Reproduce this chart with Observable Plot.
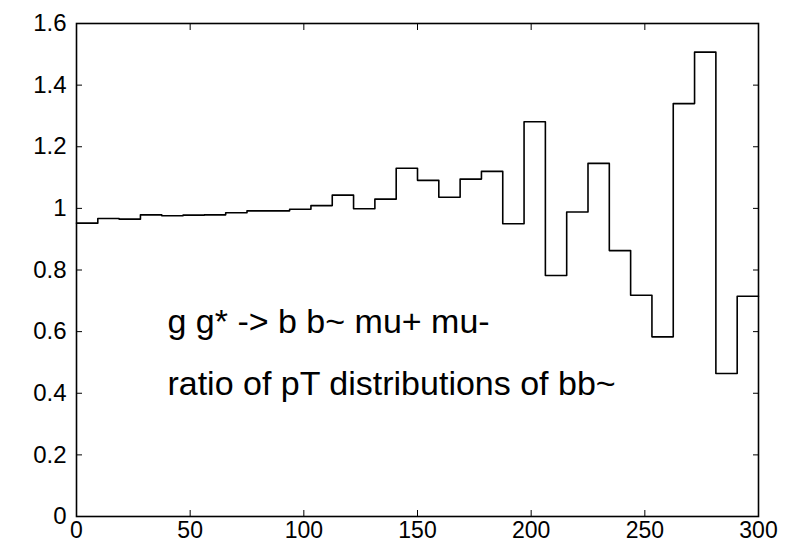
<!DOCTYPE html>
<html>
<head>
<meta charset="utf-8">
<script src="https://cdn.jsdelivr.net/npm/d3@7"></script>
<script src="https://cdn.jsdelivr.net/npm/@observablehq/plot@0.6"></script>
<style>
  html, body { margin: 0; padding: 0; background: #fff; }
  svg { font-family: "Liberation Sans", Arial, Helvetica, sans-serif; overflow: visible; }
</style>
</head>
<body>
<div id="chart"></div>
<script>
// Lower bin edges (pT)
const binEdges = [0, 9.375, 18.75, 28.125, 37.5, 46.875, 56.25, 65.625, 75, 84.375,
  93.75, 103.125, 112.5, 121.875, 131.25, 140.625, 150, 159.375, 168.75, 178.125,
  187.5, 196.875, 206.25, 215.625, 225, 234.375, 243.75, 253.125, 262.5, 271.875,
  281.25, 290.625];
const lastEdge = 300;
// Ratio values per bin
const ratios = [0.952, 0.967, 0.965, 0.979, 0.976, 0.978, 0.979, 0.986, 0.992, 0.992,
  0.997, 1.009, 1.043, 0.999, 1.030, 1.130, 1.091, 1.036, 1.095, 1.120,
  0.950, 1.281, 0.782, 0.988, 1.146, 0.863, 0.718, 0.583, 1.340, 1.507,
  0.464, 0.715];
const xTicks = [0, 50, 100, 150, 200, 250, 300];
const yTicks = [0, 0.2, 0.4, 0.6, 0.8, 1, 1.2, 1.4, 1.6];
const labels = ["g g* -> b b~ mu+ mu-", "ratio of pT distributions of bb~"];
const labelX = [40, 40];
const labelY = [0.632, 0.430];

const steps = binEdges.map((x, i) => ({x, y: ratios[i]}));
steps.push({x: lastEdge, y: ratios[ratios.length - 1]});
const texts = labels.map((t, i) => ({t, x: labelX[i], y: labelY[i]}));
const xTickData = xTicks.map(v => ({v}));
const yTickData = yTicks.map(v => ({v}));

const chart = Plot.plot({
  width: 803,
  height: 543,
  marginLeft: 76,
  marginRight: 45,
  marginTop: 23,
  marginBottom: 27,
  style: {fontFamily: "'Liberation Sans', Arial, Helvetica, sans-serif", color: "#000", background: "#fff", overflow: "visible"},
  x: {domain: [0, 300], axis: null},
  y: {domain: [0, 1.6], axis: null},
  marks: [
    Plot.line(steps, {x: "x", y: "y", curve: "step-after", stroke: "#000", strokeWidth: 1.6}),
    Plot.frame({stroke: "#000", strokeWidth: 1.6}),
    // tick labels drawn through the x / y scales
    Plot.text(xTickData, {x: "v", frameAnchor: "bottom", text: d => String(d.v), fontSize: 23, lineAnchor: "top", dy: 5, fill: "#000"}),
    Plot.text(yTickData, {y: "v", frameAnchor: "left", text: d => String(d.v), fontSize: 24, textAnchor: "end", dx: -10, fill: "#000"}),
    // inward ticks on all four sides
    Plot.axisX(xTicks, {anchor: "bottom", tickSize: -6, text: null, label: null, stroke: "#000"}),
    Plot.axisX(xTicks, {anchor: "top", tickSize: -6, text: null, label: null, stroke: "#000"}),
    Plot.axisY(yTicks, {anchor: "left", tickSize: -6, text: null, label: null, stroke: "#000"}),
    Plot.axisY(yTicks, {anchor: "right", tickSize: -6, text: null, label: null, stroke: "#000"}),
    Plot.text(texts, {x: "x", y: "y", text: "t", textAnchor: "start", fontSize: 34, fill: "#000"})
  ]
});
document.getElementById("chart").appendChild(chart);
</script>
</body>
</html>
